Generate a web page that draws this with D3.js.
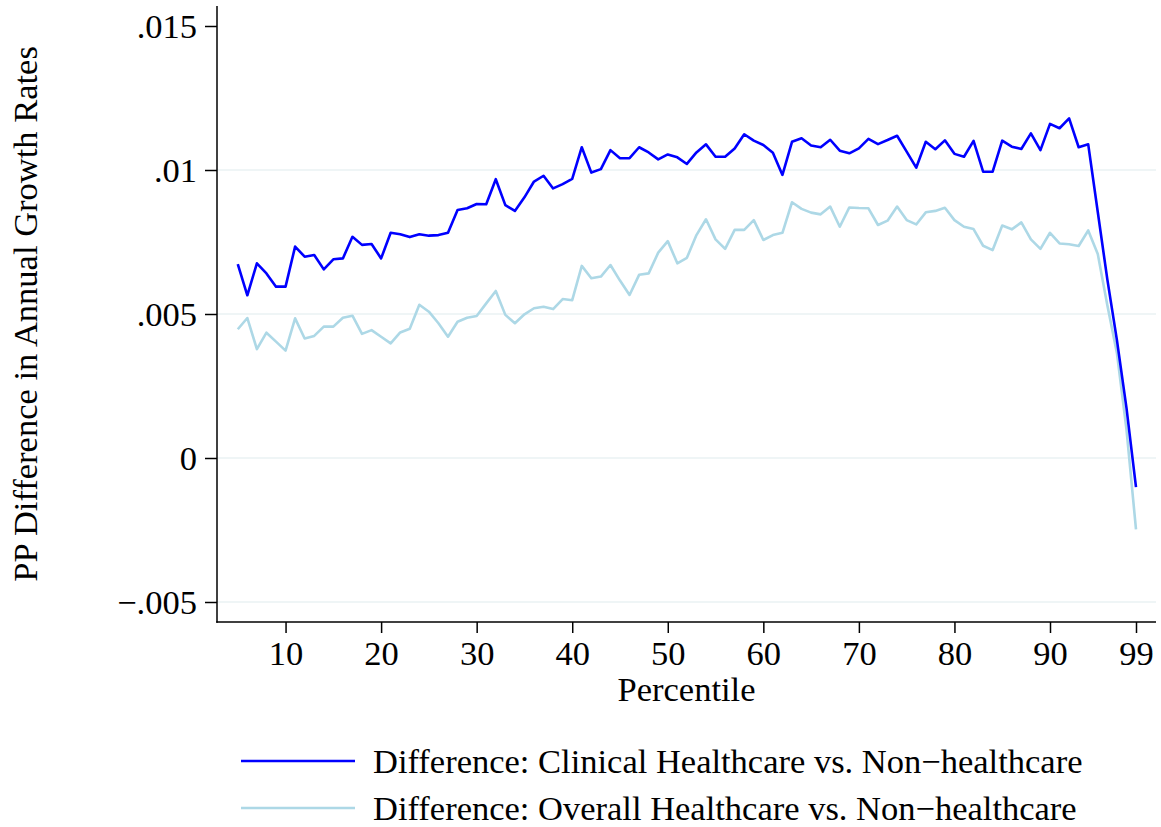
<!DOCTYPE html>
<html>
<head>
<meta charset="utf-8">
<script src="https://cdn.jsdelivr.net/npm/d3@7/dist/d3.min.js"></script>
<style>
  html, body { margin: 0; padding: 0; background: #ffffff; }
  svg { display: block; }
  text { font-family: "Liberation Serif", "Times New Roman", serif; fill: #000; }
</style>
</head>
<body>
<svg id="chart" width="1161" height="827"></svg>
<script>
// ---------------- data ----------------
const percentiles = d3.range(5, 100); // 5 .. 99

const clinicalDiff = [
  0.00673, 0.00565, 0.00676, 0.00641, 0.00595, 0.00595, 0.00734, 0.00699, 0.00705, 0.00655,
  0.00690, 0.00693, 0.00768, 0.00740, 0.00743, 0.00693, 0.00782, 0.00777, 0.00767, 0.00777,
  0.00772, 0.00774, 0.00782, 0.00861, 0.00867, 0.00882, 0.00881, 0.00968, 0.00878, 0.00858,
  0.00905, 0.00960, 0.00980, 0.00936, 0.00951, 0.00969, 0.01079, 0.00991, 0.01003, 0.01069,
  0.01041, 0.01041, 0.01079, 0.01061, 0.01037, 0.01054, 0.01044, 0.01021, 0.01061, 0.01089,
  0.01046, 0.01046, 0.01075, 0.01124, 0.01102, 0.01087, 0.01060, 0.00983, 0.01098, 0.01110,
  0.01085, 0.01079, 0.01105, 0.01067, 0.01058, 0.01075, 0.01108, 0.01090, 0.01104, 0.01119,
  0.01064, 0.01008, 0.01098, 0.01072, 0.01103, 0.01056, 0.01046, 0.01101, 0.00994, 0.00994,
  0.01102, 0.01081, 0.01073, 0.01127, 0.01069, 0.01160, 0.01145, 0.01179, 0.01079, 0.01089,
  0.00854, 0.00620, 0.00410, 0.00175, -0.00101
];

const overallDiff = [
  0.00447, 0.00486, 0.00378, 0.00435, 0.00404, 0.00373, 0.00485, 0.00415, 0.00424, 0.00456,
  0.00456, 0.00487, 0.00494, 0.00431, 0.00444, 0.00421, 0.00398, 0.00436, 0.00449, 0.00532,
  0.00508, 0.00468, 0.00421, 0.00473, 0.00487, 0.00493, 0.00537, 0.00580, 0.00497, 0.00468,
  0.00499, 0.00520, 0.00525, 0.00517, 0.00552, 0.00548, 0.00667, 0.00624, 0.00630, 0.00670,
  0.00616, 0.00566, 0.00636, 0.00641, 0.00713, 0.00753, 0.00676, 0.00695, 0.00774, 0.00829,
  0.00759, 0.00726, 0.00792, 0.00792, 0.00826, 0.00757, 0.00774, 0.00782, 0.00888, 0.00865,
  0.00852, 0.00846, 0.00873, 0.00803, 0.00870, 0.00868, 0.00867, 0.00809, 0.00824, 0.00873,
  0.00826, 0.00811, 0.00853, 0.00858, 0.00869, 0.00826, 0.00803, 0.00795, 0.00737, 0.00722,
  0.00807, 0.00794, 0.00818, 0.00759, 0.00726, 0.00782, 0.00745, 0.00742, 0.00736, 0.00790,
  0.00708, 0.00530, 0.00365, 0.00100, -0.00248
];

const xTickValues = [10, 20, 30, 40, 50, 60, 70, 80, 90, 99];
const xTickLabels = ["10", "20", "30", "40", "50", "60", "70", "80", "90", "99"];
const yTickValues = [-0.005, 0, 0.005, 0.01, 0.015];
const yTickLabels = ["\u2212.005", "0", ".005", ".01", ".015"];
const yGridValues = [-0.005, 0, 0.005, 0.01];

const seriesNames = [
  "Difference: Clinical Healthcare vs. Non\u2212healthcare",
  "Difference: Overall Healthcare vs. Non\u2212healthcare"
];
const seriesColors = ["#0000ff", "#add8e6"];

// ---------------- layout ----------------
const plotLeft = 217, plotRight = 1156, plotTop = 6, plotBottom = 622;
const FS = 34.5;

const svg = d3.select("#chart");

const x = d3.scaleLinear().domain([90, 99]).range([1050, 1136]);
const y = d3.scaleLinear().domain([-0.005, 0.015]).range([602, 26]);

// gridlines
svg.append("g")
  .selectAll("line")
  .data(yGridValues)
  .join("line")
  .attr("x1", plotLeft).attr("x2", plotRight)
  .attr("y1", d => y(d)).attr("y2", d => y(d))
  .attr("stroke", "#eaf2f3")
  .attr("stroke-width", 1.6);

// lines
const line = d3.line()
  .x(d => x(d[0]))
  .y(d => y(d[1]));

const seriesData = [clinicalDiff, overallDiff].map(vals => percentiles.map((p, i) => [p, vals[i]]));

// draw overall first, clinical on top
[1, 0].forEach(k => {
  svg.append("path")
    .datum(seriesData[k])
    .attr("fill", "none")
    .attr("stroke", seriesColors[k])
    .attr("stroke-width", 2.6)
    .attr("stroke-linejoin", "round")
    .attr("stroke-linecap", "butt")
    .attr("d", line);
});

// y axis
const yAxis = d3.axisLeft(y)
  .tickValues(yTickValues)
  .tickFormat((d, i) => yTickLabels[i])
  .tickSize(12)
  .tickPadding(8);

const gy = svg.append("g")
  .attr("transform", `translate(${plotLeft},0)`)
  .call(yAxis);
gy.select(".domain").remove();
gy.selectAll(".tick line").attr("stroke", "#000").attr("stroke-width", 1.5);
gy.selectAll(".tick text")
  .style("font-family", '"Liberation Serif", "Times New Roman", serif')
  .style("font-size", FS + "px")
  .attr("dy", "0.33em");

svg.append("line")
  .attr("x1", plotLeft).attr("x2", plotLeft)
  .attr("y1", plotTop).attr("y2", plotBottom + 0.75)
  .attr("stroke", "#000").attr("stroke-width", 1.5);

// x axis
const xAxis = d3.axisBottom(x)
  .tickValues(xTickValues)
  .tickFormat((d, i) => xTickLabels[i])
  .tickSize(11)
  .tickPadding(8);

const gx = svg.append("g")
  .attr("transform", `translate(0,${plotBottom})`)
  .call(xAxis);
gx.select(".domain").remove();
gx.selectAll(".tick line").attr("stroke", "#000").attr("stroke-width", 1.5);
gx.selectAll(".tick text")
  .style("font-family", '"Liberation Serif", "Times New Roman", serif')
  .style("font-size", FS + "px")
  .attr("y", 43)
  .attr("dy", "0");

svg.append("line")
  .attr("x1", plotLeft - 0.75).attr("x2", plotRight)
  .attr("y1", plotBottom).attr("y2", plotBottom)
  .attr("stroke", "#000").attr("stroke-width", 1.5);

// axis titles
svg.append("text")
  .attr("x", (plotLeft + plotRight) / 2)
  .attr("y", 701)
  .attr("text-anchor", "middle")
  .style("font-size", FS + "px")
  .text("Percentile");

svg.append("text")
  .attr("transform", `translate(37,${(plotTop + plotBottom) / 2}) rotate(-90)`)
  .attr("text-anchor", "middle")
  .style("font-size", FS + "px")
  .text("PP Difference in Annual Growth Rates");

// legend
const legendY = [761, 808];
const lg = svg.append("g");
seriesNames.forEach((name, i) => {
  lg.append("line")
    .attr("x1", 241).attr("x2", 355)
    .attr("y1", legendY[i]).attr("y2", legendY[i])
    .attr("stroke", seriesColors[i])
    .attr("stroke-width", 2.6);
  lg.append("text")
    .attr("x", 373)
    .attr("y", legendY[i] + 12)
    .style("font-size", FS + "px")
    .text(name);
});
</script>
</body>
</html>
